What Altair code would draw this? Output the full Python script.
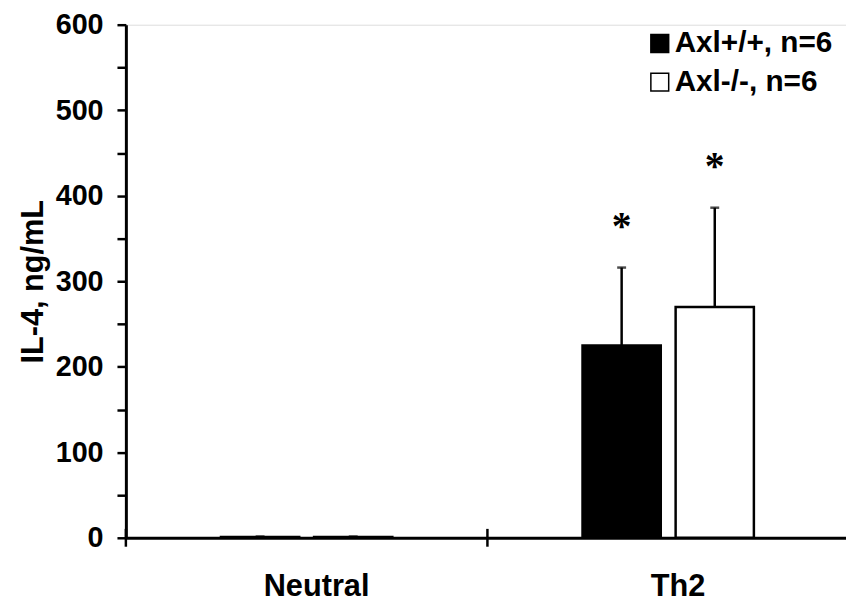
import altair as alt
import pandas as pd

groups = ["Neutral", "Neutral", "Th2", "Th2"]
genotypes = ["Axl+/+, n=6", "Axl-/-, n=6", "Axl+/+, n=6", "Axl-/-, n=6"]
means = [1, 1, 225, 270]
sds = [0.5, 0.5, 91, 116]
sig = ["", "", "*", "*"]

df = pd.DataFrame({"group": groups, "genotype": genotypes, "mean": means, "sd": sds, "sig": sig})
df["top"] = df["mean"] + df["sd"]

tick_df = pd.DataFrame({"group": ["Neutral", "Th2"]})

FONT = "Liberation Sans"
W, H = 730, 518
geno_order = ["Axl+/+, n=6", "Axl-/-, n=6"]
grp_order = ["Neutral", "Th2"]
x_scale = alt.Scale(domain=grp_order, paddingInner=0, paddingOuter=0)

x_enc = alt.X("group:N", sort=grp_order, scale=x_scale,
              axis=alt.Axis(title=None, ticks=False, labelAngle=0, labelFont=FONT,
                            labelFontSize=31, labelFontWeight="bold", labelColor="black",
                            labelBaseline="alphabetic", labelPadding=58, labelOffset=10,
                            domainColor="black", domainWidth=3))
xo_enc = alt.XOffset("genotype:N", sort=geno_order,
                     scale=alt.Scale(paddingInner=0.117, paddingOuter=1.0))

y_enc = alt.Y("mean:Q", scale=alt.Scale(domain=[0, 600], nice=False),
              axis=alt.Axis(title="IL-4, ng/mL", values=list(range(0, 601, 50)),
                            labelExpr="datum.value % 100 == 0 ? datum.label : ''",
                            grid=False, tickSize=9, tickWidth=2.5, tickColor="black",
                            domainColor="black", domainWidth=3,
                            labelFont=FONT, labelFontSize=29, labelFontWeight="bold",
                            labelColor="black", labelPadding=14,
                            titleFont=FONT, titleFontSize=31, titleFontWeight="bold",
                            titleColor="black", titlePadding=6))

bars = alt.Chart(df).mark_bar(stroke="black", strokeWidth=2.5, width=79).encode(
    x=x_enc, xOffset=xo_enc, y=y_enc,
    fill=alt.Fill("genotype:N", sort=geno_order,
                  scale=alt.Scale(domain=geno_order, range=["black", "white"]),
                  legend=alt.Legend(title=None, orient="none", legendX=524, legendY=4,
                                    symbolType="square", symbolSize=324,
                                    symbolStrokeColor="black", symbolStrokeWidth=1.5,
                                    labelFont=FONT, labelFontSize=30, labelFontWeight="bold",
                                    labelColor="black", labelOffset=0, rowPadding=9,
                                    padding=0, labelLimit=400)),
)

xg = alt.X("group:N", sort=grp_order, scale=x_scale)

err = alt.Chart(df).mark_rule(color="black", strokeWidth=2.5).encode(
    x=xg, xOffset=xo_enc, y="mean:Q", y2="top:Q")

cap = alt.Chart(df).mark_tick(color="black", thickness=2.5, size=9).encode(
    x=xg, xOffset=xo_enc, y="top:Q")

stars = alt.Chart(df).mark_text(font="Liberation Serif", fontSize=40, fontWeight="bold",
                                color="black", baseline="middle", dy=-41).encode(
    x=xg, xOffset=xo_enc, y="top:Q", text="sig:N")

xticks = alt.Chart(tick_df).mark_rule(color="black", strokeWidth=2.5).encode(
    x=alt.X("group:N", sort=grp_order, scale=x_scale, bandPosition=0),
    y=alt.value(H - 9), y2=alt.value(H + 9))

chart = alt.layer(bars, err, cap, stars, xticks).properties(
    width=W, height=H,
    autosize=alt.AutoSizeParams(type="none"),
    padding={"left": 119, "top": 14, "right": -3, "bottom": 66},
).configure_view(stroke=None).configure(background="white")

chart.save("out.html", embed_options={"renderer": "svg", "actions": False})
